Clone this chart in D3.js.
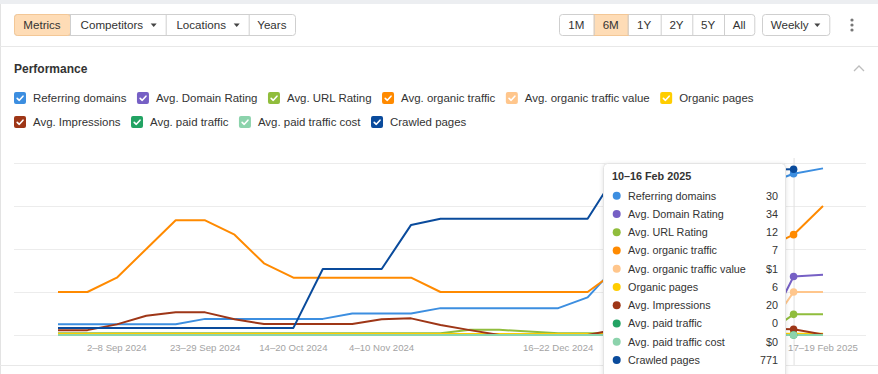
<!DOCTYPE html>
<html>
<head>
<meta charset="utf-8">
<script src="https://cdn.jsdelivr.net/npm/d3@7"></script>
<style>
  body { margin: 0; background: #fff; font-family: "Liberation Sans", Arial, sans-serif; }
  svg { display: block; }
  .btn-text { font-size: 11.6px; fill: #333; text-anchor: middle; }
  .legend-text { font-size: 11.45px; fill: #333; }
  .tick-label { font-size: 9.6px; fill: #a3a3a3; text-anchor: middle; }
  .tip-text { font-size: 10.8px; fill: #333; }
</style>
</head>
<body>
<svg width="878" height="374"></svg>
<script>
// weekly buckets on the x axis
const weeks = [
  "19–25 Aug 2024", "26 Aug–1 Sep 2024", "2–8 Sep 2024", "9–15 Sep 2024", "16–22 Sep 2024",
  "23–29 Sep 2024", "30 Sep–6 Oct 2024", "7–13 Oct 2024", "14–20 Oct 2024", "21–27 Oct 2024",
  "28 Oct–3 Nov 2024", "4–10 Nov 2024", "11–17 Nov 2024", "18–24 Nov 2024", "25 Nov–1 Dec 2024",
  "2–8 Dec 2024", "9–15 Dec 2024", "16–22 Dec 2024", "23–29 Dec 2024", "30 Dec 2024–5 Jan 2025",
  "6–12 Jan 2025", "13–19 Jan 2025", "20–26 Jan 2025", "27 Jan–2 Feb 2025", "3–9 Feb 2025",
  "10–16 Feb 2025", "17–19 Feb 2025"
]
const tickWeeks = ["2–8 Sep 2024", "23–29 Sep 2024", "14–20 Oct 2024", "4–10 Nov 2024", "16–22 Dec 2024", "17–19 Feb 2025"]
const hoverWeek = "10–16 Feb 2025"

const referringDomains = [2,2,2,2,2,3,3,3,3,3,4,4,4,5,5,5,5,5,7,13,17,20,23,26,28,30,31]
const domainRating = [0,0,0,0,0,0,0,0,0,0,0,0,0,0,0,0,0,0,0,0,0,0,0,0,0,34,35]
const urlRating = [1,1,1,1,1,1,1,1,1,1,1,1,1,1,3,3,2,1,1,1,1,1,1,1,0,12,12]
const organicTraffic = [3,3,4,6,8,8,7,5,4,4,4,4,4,3,3,3,3,3,3,4.5,5,5,6,6,6,7,9]
const organicTrafficValue = [0,0,0,0,0,0,0,0,0,0,0,0,0,0,0,0,0,0,0,0,0,0,0,0,0,1,1]
const organicPages = [5,5,5,5,5,5,5,5,5,5,5,5,5,5,5,5,5,5,5,5,5,5,5,5,5,6,6]
const impressions = [17,17,37,67,79,79,55,38,38,38,38,55,58,35,17,0,0,0,0,20,20,18,20,22,22,20,2]
const paidTraffic = [0,0,0,0,0,0,0,0,0,0,0,0,0,0,0,0,0,0,0,0,0,0,0,0,0,0,0]
const paidTrafficCost = [0,0,0,0,0,0,0,0,0,0,0,0,0,0,0,0,0,0,0,0,0,0,0,0,0,0,0]
const crawledPages = [33,33,33,33,33,33,33,33,33,307,307,307,512,541,541,541,541,541,541,755,760,762,765,768,770,771,null]

// each metric sits on its own hidden axis
const series = [
  { name: "Referring domains", color: "#3c8ee0", values: referringDomains, max: 32 },
  { name: "Avg. Domain Rating", color: "#7660c5", values: domainRating, max: 100 },
  { name: "Avg. URL Rating", color: "#90bd3c", values: urlRating, max: 100 },
  { name: "Avg. organic traffic", color: "#ff8a00", values: organicTraffic, max: 12 },
  { name: "Avg. organic traffic value", color: "#ffc68c", values: organicTrafficValue, max: 4, money: true },
  { name: "Organic pages", color: "#ffcd00", values: organicPages, max: 800 },
  { name: "Avg. Impressions", color: "#9e3617", values: impressions, max: 600 },
  { name: "Avg. paid traffic", color: "#22a363", values: paidTraffic, max: 4 },
  { name: "Avg. paid traffic cost", color: "#8cd3ac", values: paidTrafficCost, max: 4, money: true },
  { name: "Crawled pages", color: "#0a4b9c", values: crawledPages, max: 800 }
]
const legendRows = [6, 4]

const svg = d3.select("svg")

// page frame
svg.append("rect").attr("x", 0).attr("y", 0).attr("width", 878).attr("height", 4).attr("fill", "#eceef1")
svg.append("line").attr("x1", 0.5).attr("x2", 0.5).attr("y1", 4).attr("y2", 374).attr("stroke", "#e3e3e3")
svg.append("line").attr("x1", 0).attr("x2", 878).attr("y1", 46.5).attr("y2", 46.5).attr("stroke", "#e8e8e8")
svg.append("line").attr("x1", 0).attr("x2", 878).attr("y1", 365.5).attr("y2", 365.5).attr("stroke", "#e8e8e8")

// button groups
function buttonGroup(x0, edges, labels, active, carets) {
  const g = svg.append("g")
  const w = edges[edges.length - 1] - edges[0]
  g.append("rect")
    .attr("x", x0 + 0.5).attr("y", 14.5).attr("width", w).attr("height", 21)
    .attr("rx", 3).attr("fill", "#fff").attr("stroke", "#cfcfcf")
  labels.forEach((label, i) => {
    const a = x0 + edges[i] - edges[0], b = x0 + edges[i + 1] - edges[0]
    if (i === active) {
      g.append("rect")
        .attr("x", a + 0.5).attr("y", 14.5).attr("width", b - a).attr("height", 21)
        .attr("rx", i === 0 ? 3 : 0)
        .attr("fill", "#fedcb6").attr("stroke", "#f3c796")
    }
    if (i > 0) {
      g.append("line").attr("x1", a + 0.5).attr("x2", a + 0.5).attr("y1", 15).attr("y2", 35).attr("stroke", "#cfcfcf")
    }
    const hasCaret = carets && carets[i]
    g.append("text")
      .attr("class", "btn-text")
      .attr("x", (a + b) / 2 - (hasCaret ? 6 : 0))
      .attr("y", 29)
      .text(label)
    if (hasCaret) {
      g.append("path")
        .attr("d", `M${b - 15},23.5 L${b - 9},23.5 L${b - 12},27 Z`)
        .attr("fill", "#444")
    }
  })
}
buttonGroup(14, [14, 70, 165.7, 248.7, 295], ["Metrics", "Competitors", "Locations", "Years"], 0, [false, true, true, false])
buttonGroup(559, [559, 593.7, 627.7, 660.7, 692.3, 724, 754.3], ["1M", "6M", "1Y", "2Y", "5Y", "All"], 1)
buttonGroup(762, [762, 829.3], ["Weekly"], -1, [true])

// kebab menu
svg.selectAll("circle.kebab")
  .data([20, 25, 30])
  .enter()
  .append("circle")
  .attr("class", "kebab")
  .attr("cx", 852).attr("cy", d => d).attr("r", 1.6).attr("fill", "#777")

// section header
svg.append("text")
  .attr("x", 14).attr("y", 73)
  .style("font-size", "12px").style("font-weight", "bold").attr("fill", "#333")
  .text("Performance")
svg.append("path")
  .attr("d", "M854,71 L859,66 L864,71")
  .attr("fill", "none").attr("stroke", "#bdbdbd").attr("stroke-width", 1.3)

// legend with checkboxes
let idx = 0
legendRows.forEach((count, row) => {
  let x = 14
  const cy = 98 + row * 24
  series.slice(idx, idx + count).forEach(s => {
    const g = svg.append("g").attr("transform", `translate(${x}, ${cy - 6})`)
    g.append("rect").attr("width", 12).attr("height", 12).attr("rx", 2).attr("fill", s.color)
    g.append("path")
      .attr("d", "M3.2,6.3 L5.3,8.3 L9,4.2")
      .attr("fill", "none").attr("stroke", "#fff").attr("stroke-width", 1.6)
      .attr("stroke-linecap", "round").attr("stroke-linejoin", "round")
    const t = g.append("text")
      .attr("class", "legend-text")
      .attr("x", 19).attr("y", 10)
      .text(s.name)
    x += 19 + t.node().getComputedTextLength() + 10.5
  })
  idx += count
})

// chart
const plotTop = 163
const plotBottom = 335

const xScale = d3.scalePoint()
  .domain(weeks)
  .range([58, 823])

const gridScale = d3.scaleLinear()
  .domain([0, 4])
  .range([plotBottom, plotTop])

svg.append("g")
  .selectAll("line")
  .data(gridScale.ticks(4))
  .enter()
  .append("line")
  .attr("x1", 14).attr("x2", 866)
  .attr("y1", d => Math.round(gridScale(d)) + 0.5)
  .attr("y2", d => Math.round(gridScale(d)) + 0.5)
  .attr("stroke", "#ececec")

// hover crosshair
svg.append("line")
  .attr("x1", xScale(hoverWeek) + 0.5).attr("x2", xScale(hoverWeek) + 0.5)
  .attr("y1", 158).attr("y2", 365)
  .attr("stroke", "#e0e0e0")

series.forEach(s => {
  s.y = d3.scaleLinear().domain([0, s.max]).range([plotBottom, plotTop])
  s.line = d3.line()
    .defined(d => d != null)
    .x((d, i) => xScale(weeks[i]))
    .y(d => s.y(d))
})

svg.append("g")
  .selectAll("path")
  .data(series)
  .enter()
  .append("path")
  .attr("d", s => s.line(s.values))
  .attr("fill", "none")
  .attr("stroke", s => s.color)
  .attr("stroke-width", 2)
  .attr("stroke-linejoin", "round")

// x axis labels
svg.append("g")
  .selectAll("text")
  .data(tickWeeks)
  .enter()
  .append("text")
  .attr("class", "tick-label")
  .attr("x", d => xScale(d))
  .attr("y", 351)
  .text(d => d)

// tooltip
const hi = weeks.indexOf(hoverWeek)
const defs = svg.append("defs")
const shadow = defs.append("filter").attr("id", "shadow").attr("x", "-10%").attr("y", "-10%").attr("width", "130%").attr("height", "130%")
shadow.append("feDropShadow").attr("dx", 0).attr("dy", 1).attr("stdDeviation", 2).attr("flood-color", "#000").attr("flood-opacity", 0.12)

const tip = svg.append("g").attr("transform", "translate(603, 163)")
tip.append("rect")
  .attr("x", 0.5).attr("y", 0.5).attr("width", 182).attr("height", 240).attr("rx", 4)
  .attr("fill", "#fff").attr("stroke", "#e4e4e4")
  .attr("filter", "url(#shadow)")
tip.append("text")
  .attr("class", "tip-text")
  .attr("x", 9).attr("y", 17)
  .style("font-weight", "bold")
  .text(hoverWeek)

const rows = tip.selectAll("g.row")
  .data(series)
  .enter()
  .append("g")
  .attr("class", "row")
  .attr("transform", (d, i) => `translate(0, ${32.7 + i * 18.25})`)
rows.append("circle").attr("cx", 13.7).attr("cy", 0).attr("r", 4).attr("fill", s => s.color)
rows.append("text").attr("class", "tip-text").attr("x", 25).attr("y", 4).text(s => s.name)
rows.append("text").attr("class", "tip-text")
  .attr("x", 175).attr("y", 4)
  .style("text-anchor", "end")
  .text(s => (s.money ? "$" : "") + d3.format(",")(s.values[hi]))

// hover markers
svg.append("g")
  .selectAll("circle")
  .data(series)
  .enter()
  .append("circle")
  .attr("cx", xScale(hoverWeek))
  .attr("cy", s => s.y(s.values[hi]))
  .attr("r", 3.8)
  .attr("fill", s => s.color)
</script>
</body>
</html>
